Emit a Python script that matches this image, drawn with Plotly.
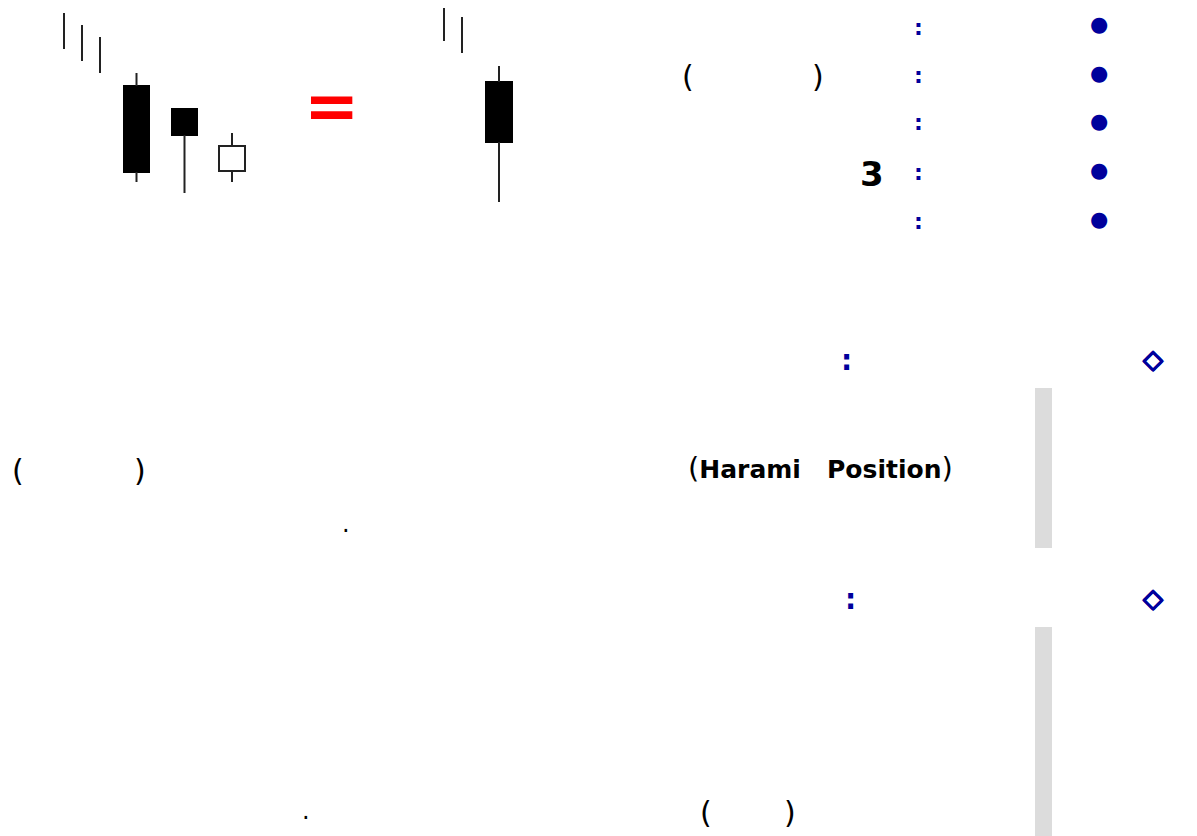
import plotly.graph_objects as go

W, H = 1197, 836
PAD = 8  # the page body margin the figure sits inside

# thin "tail" strokes of the preceding candles (only the shadows are visible)
tail_x = [64, 82, 100, 444, 462]
tail_high = [823, 811, 799, 831, 819]
tail_low = [787, 775, 763, 795, 783]

# the candles: three on the left, their combined candle on the right
candle_x = [136.5, 184.5, 232, 499]
candle_open = [750, 727, 665, 754]
candle_high = [763, 727, 703, 770]
candle_low = [654, 643, 654, 634]
candle_close = [664, 701, 690, 694]
candle_width = [25, 25, 26, 26]

BLUE = "#00009c"
FONT = "DejaVu Sans"


def py(v):
    # page pixel row -> y value (axis runs bottom to top)
    return H - v


fig = go.Figure()

# shadows of the earlier candles
xs, ys = [], []
for x, hi, lo in zip(tail_x, tail_high, tail_low):
    xs += [x, x, None]
    ys += [lo, hi, None]
fig.add_trace(go.Scatter(x=xs, y=ys, mode="lines",
                         line=dict(color="#222222", width=2),
                         hoverinfo="skip", showlegend=False))

# wicks (split so they don't cross the bodies)
wx, wy = [], []
for x, o, hi, lo, c in zip(candle_x, candle_open, candle_high, candle_low, candle_close):
    top, bot = max(o, c), min(o, c)
    if hi > top:
        wx += [x, x, None]
        wy += [top, hi, None]
    if lo < bot:
        wx += [x, x, None]
        wy += [lo, bot, None]
fig.add_trace(go.Scatter(x=wx, y=wy, mode="lines",
                         line=dict(color="#222222", width=2),
                         hoverinfo="skip", showlegend=False))

# bodies
fills = ["#000000" if c < o else "#ffffff" for o, c in zip(candle_open, candle_close)]
lines = ["#000000" if c < o else "#222222" for o, c in zip(candle_open, candle_close)]
fig.add_trace(go.Bar(x=candle_x,
                     y=[abs(o - c) for o, c in zip(candle_open, candle_close)],
                     base=[min(o, c) for o, c in zip(candle_open, candle_close)],
                     width=candle_width,
                     marker=dict(color=fills, line=dict(color=lines, width=2)),
                     hoverinfo="skip", showlegend=False))

ann = []


def txt(x, y, s, size, color="#000000", bold=False, shadow=None):
    f = dict(family=FONT, size=size, color=color)
    if shadow:
        f["shadow"] = shadow
    ann.append(dict(x=x, y=py(y), xref="x", yref="y", text=("<b>%s</b>" % s) if bold else s,
                    showarrow=False, font=f, xanchor="center", yanchor="middle"))


thick = ", ".join("%s %s 0 %s" % (a, b, BLUE)
                  for a, b in [("1px", "0"), ("-1px", "0"), ("0", "1px"), ("0", "-1px")])

# red equals sign
txt(331.5, 106, "=", 66, "#ff0000", bold=True)

# list block
txt(688, 76, "(", 30)
txt(818, 76, ")", 30)
txt(872, 174, "3", 34, bold=True)
for yy in [27, 75, 122, 172, 221]:
    txt(918, yy, ":", 22, BLUE, bold=True)
for yy in [24, 73, 121, 170, 219]:
    txt(1099, yy, "●", 21, BLUE)

# section headers
txt(846, 360, ":", 28, BLUE, bold=True)
txt(1153, 359, "◇", 26, BLUE, bold=True, shadow=thick)
txt(850, 599, ":", 28, BLUE, bold=True)
txt(1153, 598, "◇", 26, BLUE, bold=True, shadow=thick)

# paragraph 1
txt(18, 470, "(", 30)
txt(140, 470, ")", 30)
txt(820, 468, "<span style='font-size:29px'>(</span><b>Harami   Position</b>"
              "<span style='font-size:29px'>)</span>", 25)
txt(346, 524, ".", 24)

# paragraph 2
txt(306, 811, ".", 24)
txt(706, 812, "(", 30)
txt(790, 812, ")", 30)

fig.update_layout(annotations=ann)

# grey quote bars
for y0, y1 in [(388, 548), (627, 836)]:
    fig.add_shape(type="rect", xref="x", yref="y", x0=1035, x1=1052, y0=py(y1), y1=py(y0),
                  fillcolor="#dcdcdc", line=dict(width=0), layer="below")

fig.update_xaxes(range=[PAD, W], visible=False, showgrid=False, zeroline=False)
fig.update_yaxes(range=[0, H - PAD], visible=False, showgrid=False, zeroline=False)
fig.update_layout(width=W - PAD, height=H - PAD, margin=dict(l=0, r=0, t=0, b=0),
                  paper_bgcolor="white", plot_bgcolor="white",
                  bargap=0, showlegend=False)

fig.write_html("out.html")
